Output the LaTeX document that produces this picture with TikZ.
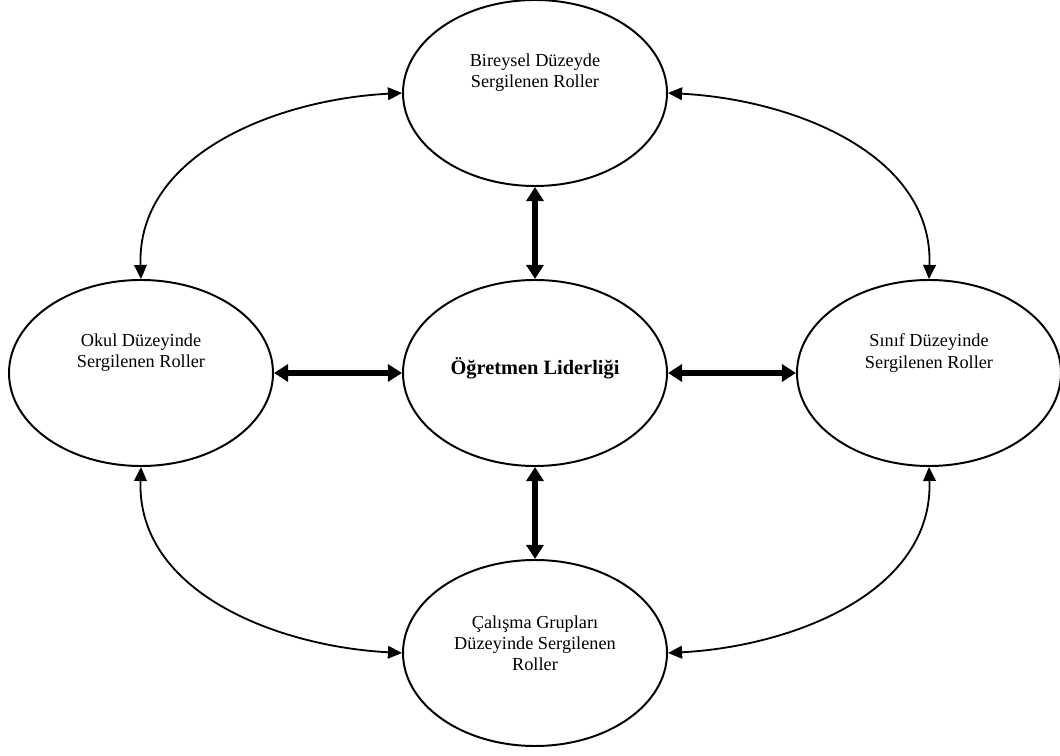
\documentclass[tikz,border=0pt]{standalone}
\usepackage{fontspec}
\setmainfont{Liberation Serif}
\usepackage{tikz}
\usetikzlibrary{positioning}
\usetikzlibrary{arrows.meta,shapes.geometric}
\usetikzlibrary{calc}

\tikzset{
  oval/.style={draw,ellipse,line width=1.4pt,minimum width=6.6cm,minimum height=4.65cm,inner sep=0pt},
  txt/.style={align=center,font=\fontsize{13}{15}\selectfont},
  thin arrow/.style={{Triangle[length=10pt,width=9pt]}-{Triangle[length=10pt,width=9pt]},line width=1.3pt},
  thick arrow/.style={{Triangle[length=10pt,width=12pt]}-{Triangle[length=10pt,width=12pt]},line width=4pt}
}

\begin{document}
\begin{tikzpicture}
  \useasboundingbox (0,0) rectangle (26.5,18.875);
  \node (h) at (9.85, 0) {};
  \node (v) at (0, 7.0) {};
  \node [oval] (Lider) at (13.375, 9.55) {};
  \node [oval] (Bireysel) at ($(Lider)+(v)$) {};
  \node [oval] (Calisma) at ($(Lider)-(v)$) {};
  \node [oval] (Okul) at ($(Lider)-(h)$) {};
  \node [oval] (Sinif) at ($(Lider)+(h)$) {};
  \node [font=\fontsize{14.5}{16}\bfseries] (LiderT) at ($(Lider)+(0,0.12)$) {Öğretmen Liderliği};
  \node [txt] (BireyselT) at ($(Bireysel)+(0,0.52)$) {Bireysel Düzeyde\\Sergilenen Roller};
  \node [txt] (OkulT) at ($(Okul)+(0,0.5)$) {Okul Düzeyinde\\Sergilenen Roller};
  \node [txt] (SinifT) at ($(Sinif)+(0,0.5)$) {Sınıf Düzeyinde\\Sergilenen Roller};
  \node [txt] (CalismaT) at ($(Calisma)+(0,0.25)$) {Çalışma Grupları\\Düzeyinde Sergilenen\\Roller};
  \draw[thick arrow] (Lider.north) -- (Bireysel.south);
  \draw[thick arrow] (Lider.south) -- (Calisma.north);
  \draw[thick arrow] (Lider.west) -- (Okul.east);
  \draw[thick arrow] (Lider.east) -- (Sinif.west);
  \draw[thin arrow] (Okul.north) to[out=92,in=183] (Bireysel.west);
  \draw[thin arrow] (Sinif.north) to[out=88,in=-3] (Bireysel.east);
  \draw[thin arrow] (Okul.south) to[out=-92,in=177] (Calisma.west);
  \draw[thin arrow] (Sinif.south) to[out=-88,in=3] (Calisma.east);
\end{tikzpicture}
\end{document}
